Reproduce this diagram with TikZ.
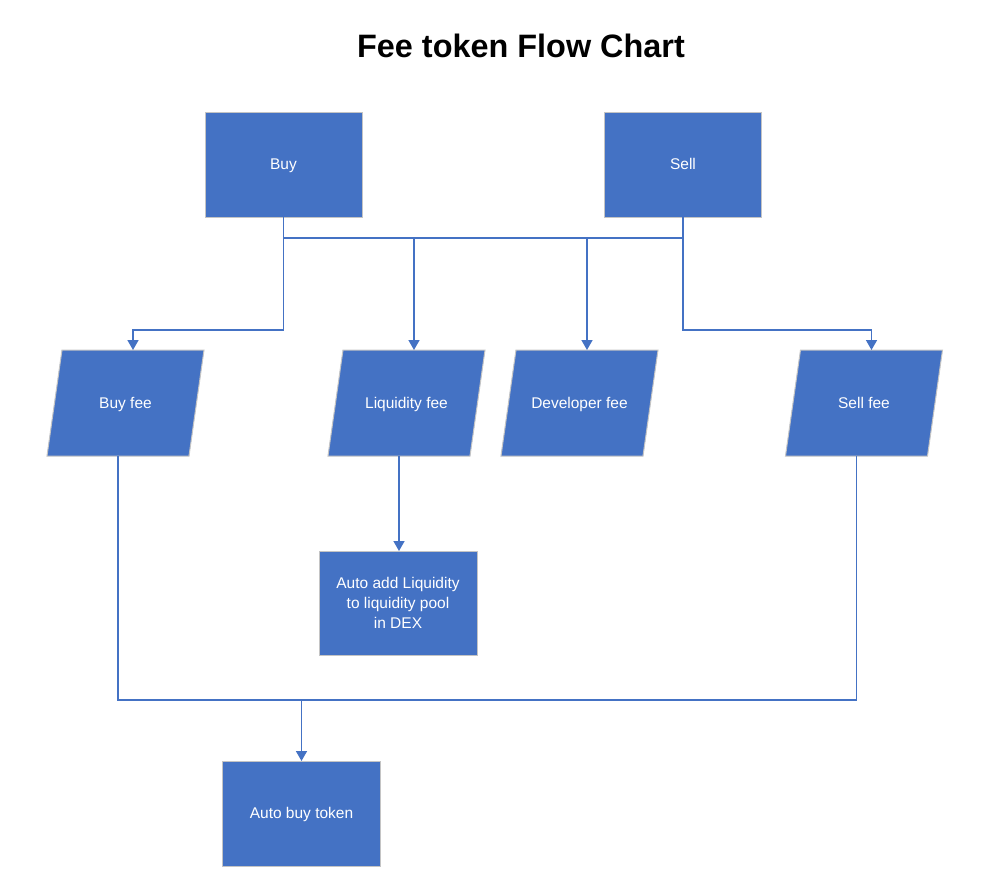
\documentclass[tikz,border=0pt]{standalone}
\usepackage{fontspec}
\setmainfont{Liberation Sans}
\usetikzlibrary{arrows.meta}
\definecolor{boxblue}{HTML}{4472C4}
\definecolor{boxedge}{HTML}{C4C4C4}
\newcommand\paranode[4]{%
  \filldraw[parashape] ({#2-63.5},{#3-53}) -- ({#2+78.5},{#3-53})
    -- ({#2+63.5},{#3+53}) -- ({#2-78.5},{#3+53}) -- cycle;
  \node[paratext, oneline] (#1) at (#2,#3) {#4};
  \coordinate (#1-t) at ({#2+7.5},{#3-53});
  \coordinate (#1-b) at ({#2-7.5},{#3+53});
}
\begin{document}
\begin{tikzpicture}[x=1pt,y=-1pt,
  box/.style={rectangle, fill=boxblue, draw=boxedge, line width=1pt,
    minimum width=157pt, minimum height=105pt, inner sep=0pt, outer sep=0pt,
    text=white, font=\fontsize{15.5}{20}\selectfont, align=center},
  oneline/.style={text height=14pt, text depth=3.3pt},
  parashape/.style={fill=boxblue, draw=boxedge, line width=1pt},
  paratext/.style={text=white, font=\fontsize{15.5}{20}\selectfont, align=center, inner sep=0pt},
  link/.style={draw=boxblue, line width=1.6pt},
  arr/.style={link, -{Triangle[width=11pt,length=10pt]}}]
\fill[white] (0,0) rectangle (989,886);
\useasboundingbox (0,0) rectangle (989,886);

\node[font=\bfseries\fontsize{32.4}{38}\selectfont] (title) at (521,46) {Fee token Flow Chart};

\node[box, oneline] (buy) at (283.5,164.5) {Buy};
\node[box, oneline] (sell) at (683,164.5) {Sell};

\paranode{bf}{125.5}{403}{Buy fee}
\paranode{lf}{406.5}{403}{Liquidity fee}
\paranode{df}{579.5}{403}{Developer fee}
\paranode{sf}{864}{403}{Sell fee}

\node[box, minimum width=158pt, minimum height=104pt] (aal) at (398,603) {Auto add Liquidity\\to liquidity pool\\in DEX};
\node[box, oneline, minimum width=158pt] (abt) at (301.5,813.5) {Auto buy token};

\coordinate (hb) at (283.5,238);
\coordinate (hs) at (683,238);
\coordinate (lb) at (283.5,330);
\coordinate (ls) at (683,330);
\coordinate (bot) at (301.5,700);
\coordinate (botr) at (856,700);

\draw[arr] (buy.south) -- (lb) -| (bf-t);
\draw[arr] (sell.south) -- (ls) -| (sf-t);
\draw[link] (hb) -- (hs);
\draw[arr] (hb -| lf-t) -- (lf-t);
\draw[arr] (hb -| df-t) -- (df-t);
\draw[arr] (lf-b) -- (lf-b |- aal.north);
\draw[link] (bf-b) |- (sf-b |- botr) -- (sf-b);
\draw[arr] (bot) -- (abt.north);
\end{tikzpicture}
\end{document}
